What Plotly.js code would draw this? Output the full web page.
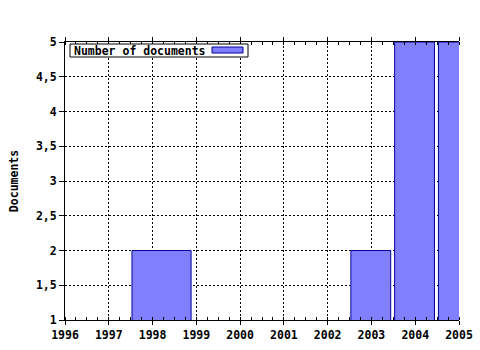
<!DOCTYPE html>
<html>
<head>
<meta charset="utf-8">
<script src="https://cdn.plot.ly/plotly-3.0.1.min.js"></script>
<style>html,body{margin:0;padding:0;background:#fff;}#chart{width:480px;height:350px;}</style>
</head>
<body>
<div id="chart"></div>
<script>
// Data
const years = [1998, 2003, 2004, 2005];
const documents = [2, 2, 5, 5];
const seriesName = "Number of documents";
const yTitle = "Documents";

const FONT = {family: "DejaVu Sans Mono, Liberation Mono, monospace", size: 11.5, color: "#000", weight: "bold"};
const L = 65, R = 21, T = 42, B = 30, W = 480, H = 350;
const pw = W - L - R, ph = H - T - B;
const px = x => (x - L) / pw;
const py = y => (H - B - y) / ph;

const trace = {
  type: "bar",
  x: years,
  y: documents,
  name: seriesName,
  width: [1.35, 0.91, 0.91, 0.91],
  offset: -0.47,
  marker: {color: "#8080ff", line: {color: "#000099", width: 1}},
  showlegend: false,
  hoverinfo: "none"
};

const layout = {
  width: W, height: H,
  margin: {l: L, r: R, t: T, b: B, pad: 0},
  paper_bgcolor: "#fff", plot_bgcolor: "#fff",
  separators: ", ",
  font: FONT,
  showlegend: false,
  xaxis: {
    range: [1996, 2005], tick0: 1996, dtick: 1, tickformat: "d",
    showline: true, linecolor: "#000", linewidth: 1, mirror: "ticks",
    ticks: "outside", ticklen: 4, tickcolor: "#000", tickwidth: 1,
    showgrid: true, gridcolor: "#000", gridwidth: 1, griddash: "2px,2px",
    zeroline: false, tickfont: FONT,
    minor: {dtick: 0.25, tick0: 1996, ticks: "inside", ticklen: 3, tickcolor: "#000", showgrid: false}
  },
  yaxis: {
    range: [1, 5], tick0: 1, dtick: 0.5,
    showline: true, linecolor: "#000", linewidth: 1,
    ticks: "outside", ticklen: 5, tickcolor: "#000", tickwidth: 1,
    showgrid: true, gridcolor: "#000", gridwidth: 1, griddash: "2px,2px",
    zeroline: false, tickfont: FONT,
    title: {text: yTitle, font: FONT, standoff: 14}
  },
  shapes: [
    {type: "rect", xref: "paper", yref: "paper", x0: px(70), x1: px(248), y0: py(57), y1: py(44),
     fillcolor: "#fff", line: {color: "#000", width: 1}},
    {type: "rect", xref: "paper", yref: "paper", x0: px(212), x1: px(243), y0: py(53), y1: py(47),
     fillcolor: "#8080ff", line: {color: "#000099", width: 1}}
  ],
  annotations: [
    {xref: "paper", yref: "paper", x: px(72), y: py(50.5), xanchor: "left", yanchor: "middle",
     text: seriesName, showarrow: false, font: FONT}
  ]
};

Plotly.newPlot("chart", [trace], layout, {staticPlot: true, displayModeBar: false});
</script>
</body>
</html>
